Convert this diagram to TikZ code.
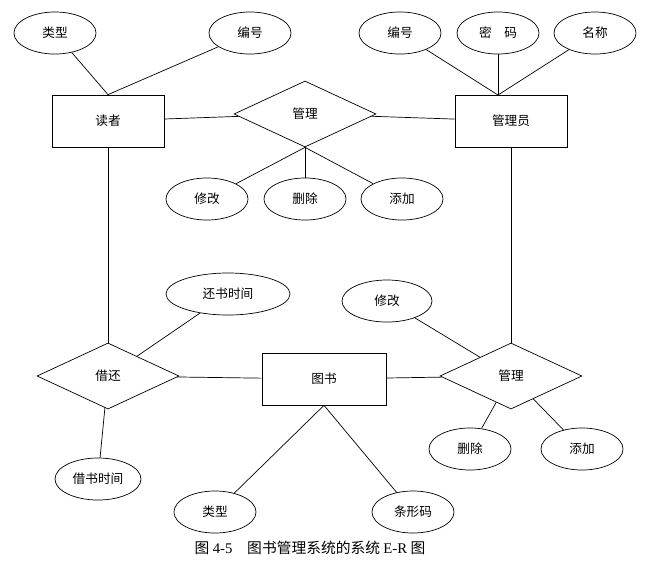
\documentclass[tikz,border=0pt]{standalone}
\usepackage{fontspec}
\setmainfont{Liberation Serif}
\newfontfamily\cjk{Noto Sans CJK SC}
\usetikzlibrary{shapes.geometric}
\tikzset{
  attr/.style={draw, ellipse, minimum width=2.05cm, minimum height=1.05cm, inner sep=0pt},
  ent/.style={draw, rectangle, minimum width=2.8cm, minimum height=1.3cm},
  rel/.style={draw, diamond, minimum width=3.55cm, minimum height=1.65cm, inner sep=0pt},
}
\begin{document}
\begin{tikzpicture}[x=0.025cm, y=-0.025cm, font=\cjk\fontsize{9}{11}\selectfont, line width=0.5pt]
    \useasboundingbox (0,0) rectangle (669,581);

    % entities
    \node[ent] (reader) at (108,121) {读者};
    \node[ent] (admin) at (511,121) {管理员};
    \node[ent, minimum width=3.1cm] (book) at (324,379) {图书};

    % relations
    \node[rel] (manage) at (305,114) {管理};
    \node[rel] (borrow) at (108,376) {借还};
    \node[rel] (bmanage) at (511,376) {管理};

    % attributes
    \node[attr] (rtype) at (55,33) {类型};
    \node[attr] (rid) at (250,33) {编号};
    \node[attr] (aid) at (400,33) {编号};
    \node[attr] (apwd) at (498,33) {密\quad 码};
    \node[attr] (aname) at (595,33) {名称};
    \node[attr] (mmod) at (207,199) {修改};
    \node[attr] (mdel) at (305,199) {删除};
    \node[attr] (madd) at (402,199) {添加};
    \node[attr, minimum width=3.1cm] (rtime) at (228,294) {还书时间};
    \node[attr, minimum width=2.25cm] (bmod) at (387,301) {修改};
    \node[attr] (bdel) at (470,449) {删除};
    \node[attr] (badd) at (582,449) {添加};
    \node[attr, minimum width=2.15cm] (btime) at (98,479) {借书时间};
    \node[attr] (btype) at (215,512) {类型};
    \node[attr] (bcode) at (413,512) {条形码};

    \coordinate (atop) at (498,95);

    \draw (rtype) -- (reader.north);
    \draw (rid) -- (reader.north);
    \draw (reader) -- (manage) -- (admin);
    \draw (aid) -- (atop);
    \draw (apwd) -- (atop);
    \draw (aname) -- (atop);
    \draw (manage.south) -- (mmod);
    \draw (manage.south) -- (mdel);
    \draw (manage.south) -- (madd);
    \draw (reader) -- (borrow);
    \draw (rtime) -- (borrow);
    \draw (borrow) -- (btime);
    \draw (borrow) -- (book) -- (bmanage);
    \draw (admin) -- (bmanage);
    \draw (bmod) -- (bmanage);
    \draw (bmanage) -- (bdel);
    \draw (bmanage) -- (badd);
    \draw (book.south) -- (btype);
    \draw (book.south) -- (bcode);

    \node[font=\cjk\fontsize{10.5}{12}\selectfont] (caption) at (310,548) {图 {\rmfamily 4-5}\quad 图书管理系统的系统 {\rmfamily E-R} 图};
\end{tikzpicture}
\end{document}
